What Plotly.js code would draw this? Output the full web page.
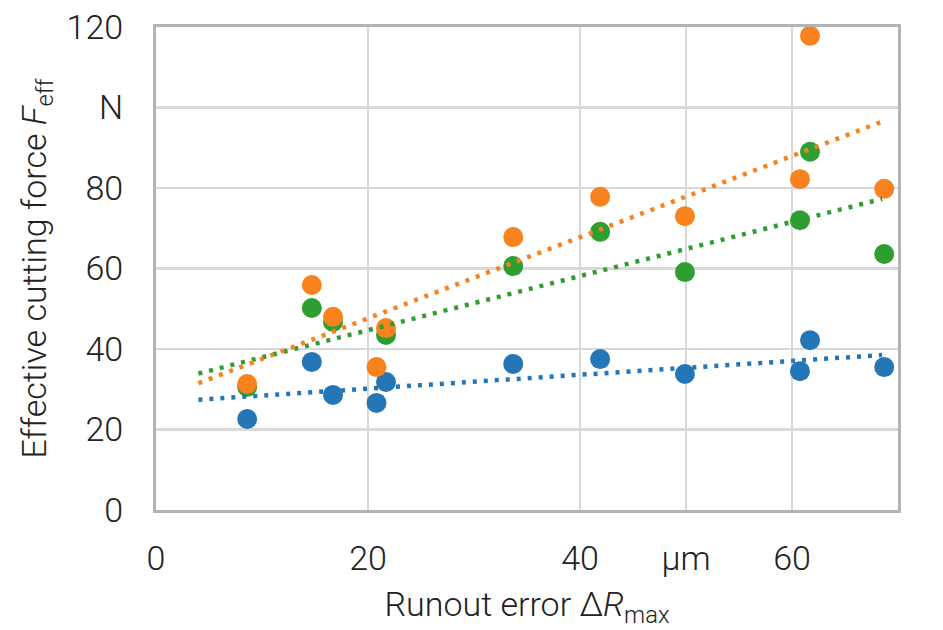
<!DOCTYPE html>
<html>
<head>
<meta charset="utf-8">
<script src="https://cdn.plot.ly/plotly-3.0.1.min.js"></script>
<style>html,body{margin:0;padding:0;background:#fff;}#chart{width:943px;height:630px;}</style>
</head>
<body>
<div id="chart"></div>
<script>
// Runout error ΔRmax (µm)
const blueX   = [8.6, 14.7, 16.7, 20.8, 21.7, 33.7, 41.9, 49.9, 60.75, 61.7, 68.7];
const blueY   = [22.6, 36.8, 28.6, 26.6, 31.8, 36.3, 37.5, 33.8, 34.5, 42.2, 35.5];
const orangeX = [8.6, 14.7, 16.7, 20.8, 21.7, 33.7, 41.9, 49.9, 60.75, 61.7, 68.7];
const orangeY = [31.3, 55.9, 48.0, 35.5, 45.2, 67.8, 77.8, 73.0, 82.2, 117.8, 79.8];
const greenX  = [8.6, 14.7, 16.7, 21.7, 33.7, 41.9, 49.9, 60.75, 61.7, 68.7];
const greenY  = [30.6, 50.2, 46.7, 43.5, 60.6, 69.1, 59.1, 72.0, 89.0, 63.6];
// Trend line endpoints
const trendX       = [4.0, 68.5];
const blueTrendY   = [27.4, 38.5];
const orangeTrendY = [31.5, 96.5];
const greenTrendY  = [33.9, 77.3];
// Tick labels
const xTickVals = [0, 20, 40, 50, 60];
const xTickText = ['0', '20', '40', 'µm', '60'];
const yTickVals = [0, 20, 40, 60, 80, 100, 120];
const yTickText = ['0', '20', '40', '60', '80', 'N', '120'];

const BLUE = '#2576b6', ORANGE = '#f7821e', GREEN = '#2f9e32';
const FONT = 'Roboto, "DejaVu Sans", sans-serif';
const FS = 34;

function markers(x, y, c) {
  return {x: x, y: y, type: 'scatter', mode: 'markers', hoverinfo: 'skip',
          marker: {color: c, size: 20, line: {width: 0}}};
}
function trend(y, c) {
  return {x: trendX, y: y, type: 'scatter', mode: 'lines', hoverinfo: 'skip',
          line: {color: c, width: 4.5, dash: '4px,7px'}};
}

const data = [
  markers(blueX, blueY, BLUE),
  markers(greenX, greenY, GREEN),
  markers(orangeX, orangeY, ORANGE),
  trend(blueTrendY, BLUE),
  trend(greenTrendY, GREEN),
  trend(orangeTrendY, ORANGE)
];

const txt = {family: FONT, size: FS, color: '#222', weight: 300};

const layout = {
  width: 943, height: 630,
  margin: {l: 156, r: 45, t: 27, b: 120},
  paper_bgcolor: '#fff', plot_bgcolor: '#fff',
  showlegend: false,
  font: txt,
  xaxis: {
    range: [0, 70], autorange: false,
    tickvals: xTickVals, ticktext: xTickText,
    showgrid: true, gridcolor: '#d9d9d9', gridwidth: 2.5,
    showline: true, linecolor: '#b3b3b3', linewidth: 3, mirror: true,
    zeroline: false, ticks: '', ticklabelstandoff: 16,
    tickfont: txt,
    title: {text: 'Runout error Δ<i>R</i><sub>max</sub>', standoff: 16, font: txt}
  },
  yaxis: {
    range: [0, 120], autorange: false,
    tickvals: yTickVals, ticktext: yTickText,
    showgrid: true, gridcolor: '#d9d9d9', gridwidth: 2.5,
    showline: true, linecolor: '#b3b3b3', linewidth: 3, mirror: true,
    zeroline: false, ticks: '', ticklabelstandoff: 23,
    tickfont: txt,
    title: {text: 'Effective cutting force <i>F</i><sub>eff</sub>', standoff: 10, font: txt}
  }
};

Plotly.newPlot('chart', data, layout, {displayModeBar: false, staticPlot: true});
</script>
</body>
</html>
